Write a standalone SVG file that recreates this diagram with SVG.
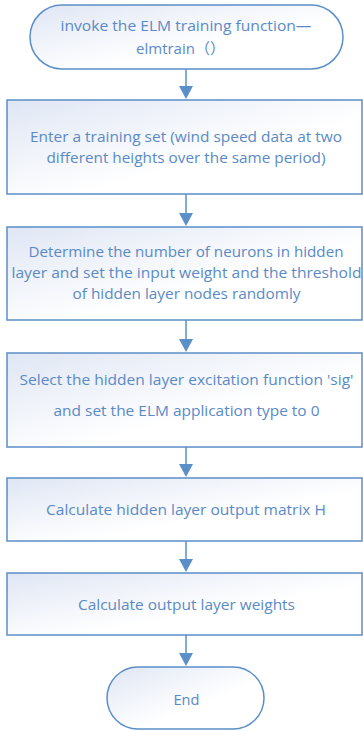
<svg xmlns="http://www.w3.org/2000/svg" width="363" height="731" viewBox="0 0 363 731">
<defs>
<linearGradient id="g" x1="0" y1="0" x2="1" y2="1">
<stop offset="0" stop-color="#dfe6f4"/>
<stop offset="0.6" stop-color="#ffffff"/>
</linearGradient>
</defs>
<style>
.n{fill:url(#g);stroke:#5b8fc8;stroke-width:1.5}
.t{font-family:"Open Sans","Liberation Sans","Noto Sans CJK SC",sans-serif;font-size:15px;fill:#5a8ac6;text-anchor:middle}
.c{stroke:#5b8fc8;stroke-width:1.5;fill:none}
.a{fill:#5b8fc8}
</style>
<g id="connectors">
<line class="c" x1="186" y1="69" x2="186" y2="87"/><path class="a" d="M179,86 L193,86 L186,99 Z"/>
<line class="c" x1="186" y1="194" x2="186" y2="214"/><path class="a" d="M179,213 L193,213 L186,226 Z"/>
<line class="c" x1="186" y1="320" x2="186" y2="340"/><path class="a" d="M179,339 L193,339 L186,352 Z"/>
<line class="c" x1="186" y1="447" x2="186" y2="465"/><path class="a" d="M179,464 L193,464 L186,477 Z"/>
<line class="c" x1="186" y1="541" x2="186" y2="560"/><path class="a" d="M179,559 L193,559 L186,572 Z"/>
<line class="c" x1="186" y1="635" x2="186" y2="654"/><path class="a" d="M179,653 L193,653 L186,666 Z"/>
</g>
<g id="start">
<rect class="n" x="30" y="5" width="313" height="64" rx="32" ry="32"/>
<text class="t" x="186" y="31" textLength="251" lengthAdjust="spacingAndGlyphs">invoke the ELM training function—</text>
<text class="t" x="180.5" y="54">elmtrain（）</text>
</g>
<g id="step1">
<rect class="n" x="7" y="100" width="355" height="94"/>
<text class="t" x="186" y="142" textLength="312" lengthAdjust="spacingAndGlyphs">Enter a training set (wind speed data at two</text>
<text class="t" x="186" y="163" textLength="279" lengthAdjust="spacingAndGlyphs">different heights over the same period)</text>
</g>
<g id="step2">
<rect class="n" x="7" y="227" width="355" height="93"/>
<text class="t" x="186" y="257" textLength="315" lengthAdjust="spacingAndGlyphs">Determine the number of neurons in hidden</text>
<text class="t" x="186.5" y="278" textLength="350" lengthAdjust="spacingAndGlyphs">layer and  set the input weight and the threshold</text>
<text class="t" x="186.5" y="299" textLength="228" lengthAdjust="spacingAndGlyphs">of hidden layer nodes randomly</text>
</g>
<g id="step3">
<rect class="n" x="7" y="353" width="355" height="94"/>
<text class="t" x="186.5" y="385" textLength="334" lengthAdjust="spacingAndGlyphs">Select the hidden layer excitation function 'sig'</text>
<text class="t" x="186.5" y="416" textLength="266" lengthAdjust="spacingAndGlyphs">and set the ELM application type to 0</text>
</g>
<g id="step4">
<rect class="n" x="7" y="478" width="355" height="63"/>
<text class="t" x="186" y="515" textLength="280" lengthAdjust="spacingAndGlyphs">Calculate  hidden layer output matrix H</text>
</g>
<g id="step5">
<rect class="n" x="7" y="573" width="355" height="62"/>
<text class="t" x="186.5" y="610" textLength="217" lengthAdjust="spacingAndGlyphs">Calculate output layer weights</text>
</g>
<g id="end">
<rect class="n" x="107" y="667" width="157" height="62" rx="31" ry="31"/>
<text class="t" x="186.5" y="705" textLength="26" lengthAdjust="spacingAndGlyphs">End</text>
</g>
</svg>
